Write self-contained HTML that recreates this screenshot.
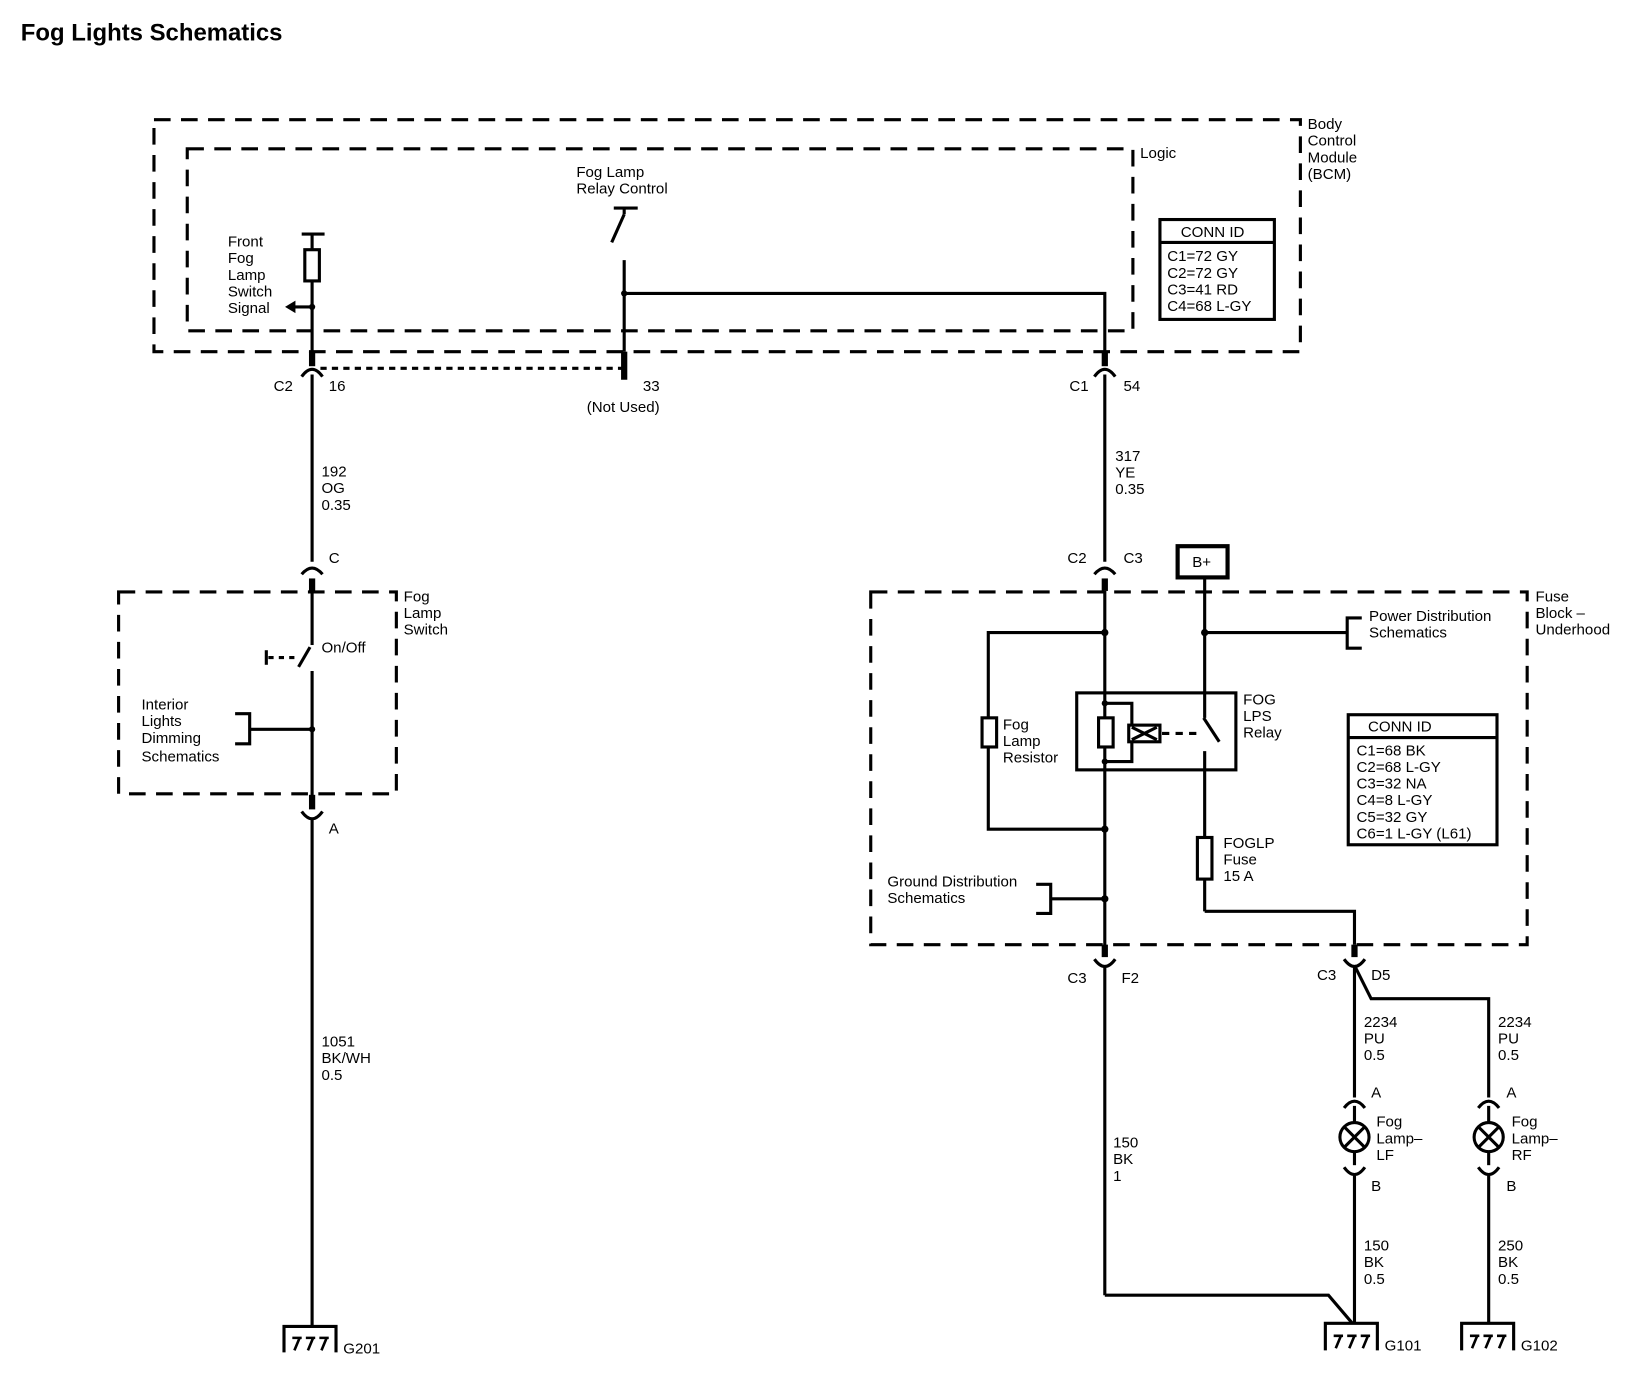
<!DOCTYPE html>
<html><head><meta charset="utf-8"><style>
html,body{margin:0;padding:0;background:#fff;}
svg{display:block;}
text{font-family:"Liberation Sans",sans-serif;font-size:14.5px;fill:#000;}
</style></head><body>
<svg width="1626" height="1392" viewBox="0 0 1563 1338" xmlns="http://www.w3.org/2000/svg">
<g fill="none" stroke="#000" stroke-width="3">
<rect x="148" y="115" width="1102" height="223" stroke-dasharray="16,10"/>
<rect x="180" y="143" width="909" height="175" stroke-dasharray="16,10"/>
<rect x="1115" y="211" width="110" height="96"/>
<line x1="1115" y1="233" x2="1225" y2="233"/>
<line x1="290" y1="225" x2="312" y2="225"/>
<line x1="300" y1="225" x2="300" y2="240"/>
<rect x="293" y="240" width="14" height="30"/>
<line x1="300" y1="270" x2="300" y2="350"/>
<line x1="300" y1="295" x2="282" y2="295"/>
<line x1="300" y1="338" x2="300" y2="352" stroke-width="6"/>
<path d="M290 362 Q300 348 310 362"/>
<line x1="300" y1="360" x2="300" y2="540"/>
<line x1="308" y1="354" x2="600" y2="354" stroke-dasharray="6,5"/>
<line x1="590" y1="200" x2="613" y2="200"/>
<line x1="600" y1="200" x2="600" y2="206"/>
<line x1="600" y1="206" x2="588" y2="233"/>
<line x1="600" y1="250" x2="600" y2="338"/>
<line x1="600" y1="338" x2="600" y2="365" stroke-width="6"/>
<polyline points="600,282 1062,282 1062,338"/>
<line x1="1062" y1="338" x2="1062" y2="352" stroke-width="6"/>
<path d="M1052 362 Q1062 348 1072 362"/>
<line x1="1062" y1="360" x2="1062" y2="540"/>
<path d="M290 552 Q300 540 310 552"/>
<line x1="300" y1="556" x2="300" y2="568" stroke-width="6"/>
<rect x="114" y="569" width="267" height="194" stroke-dasharray="16,10"/>
<line x1="300" y1="568" x2="300" y2="620"/>
<line x1="298" y1="622" x2="287" y2="641"/>
<line x1="300" y1="645" x2="300" y2="770"/>
<line x1="258" y1="632" x2="283" y2="632" stroke-dasharray="5,5"/>
<line x1="256" y1="625" x2="256" y2="639"/>
<line x1="300" y1="701" x2="240" y2="701"/>
<polyline points="226,686 240,686 240,715 226,715"/>
<line x1="300" y1="764" x2="300" y2="778" stroke-width="6"/>
<path d="M290 780 Q300 794 310 780"/>
<line x1="300" y1="786" x2="300" y2="1275"/>
<polyline points="273,1300 273,1275 323,1275 323,1300"/>
<path stroke-width="2.5" d="M283 1298 L288 1286 M296 1298 L301 1286 M309 1298 L314 1286 M281 1286 H290 M294 1286 H303 M307 1286 H316"/>
<path d="M1052 552 Q1062 540 1072 552"/>
<line x1="1062" y1="556" x2="1062" y2="568" stroke-width="6"/>
<rect x="1132" y="525" width="48" height="30" stroke-width="4"/>
<rect x="837" y="569" width="631" height="339" stroke-dasharray="16,10"/>
<line x1="1062" y1="568" x2="1062" y2="915"/>
<polyline points="1062,608 950,608 950,797 1062,797"/>
<rect x="944" y="690" width="14" height="28" fill="#fff"/>
<rect x="1035" y="666" width="153" height="74"/>
<polyline points="1062,676 1088,676 1088,697"/>
<polyline points="1062,732 1088,732 1088,713"/>
<rect x="1056" y="690" width="14" height="28" fill="#fff"/>
<rect x="1085" y="697" width="30" height="16"/>
<path d="M1088 699 L1112 711 M1088 711 L1112 699"/>
<line x1="1117" y1="705" x2="1152" y2="705" stroke-dasharray="7,6"/>
<line x1="1158" y1="555" x2="1158" y2="690"/>
<line x1="1157" y1="690" x2="1172" y2="713"/>
<line x1="1158" y1="722" x2="1158" y2="876"/>
<rect x="1151" y="805" width="14" height="40" fill="#fff"/>
<polyline points="1158,876 1302,876 1302,908"/>
<line x1="1158" y1="608" x2="1295" y2="608"/>
<polyline points="1309,594 1295,594 1295,623 1309,623"/>
<line x1="1010" y1="864" x2="1062" y2="864"/>
<polyline points="996,850 1010,850 1010,878 996,878"/>
<rect x="1296" y="687" width="143" height="125"/>
<line x1="1296" y1="709" x2="1439" y2="709"/>
<line x1="1062" y1="908" x2="1062" y2="920" stroke-width="6"/>
<path d="M1052 922 Q1062 936 1072 922"/>
<line x1="1062" y1="928" x2="1062" y2="1245"/>
<polyline points="1062,1245 1277,1245 1300,1272"/>
<line x1="1302" y1="908" x2="1302" y2="920" stroke-width="6"/>
<path d="M1292 922 Q1302 936 1312 922"/>
<polyline points="1302,928 1318,960 1431,960 1431,1055"/>
<line x1="1302" y1="930" x2="1302" y2="1055"/>
<path d="M1292 1065 Q1302 1052 1312 1065"/>
<line x1="1302" y1="1063" x2="1302" y2="1079"/>
<circle cx="1302" cy="1093" r="14"/>
<path d="M1292 1083 L1312 1103 M1312 1083 L1292 1103"/>
<line x1="1302" y1="1107" x2="1302" y2="1120"/>
<path d="M1292 1122 Q1302 1136 1312 1122"/>
<line x1="1302" y1="1130" x2="1302" y2="1272"/>
<path d="M1421 1065 Q1431 1052 1441 1065"/>
<line x1="1431" y1="1063" x2="1431" y2="1079"/>
<circle cx="1431" cy="1093" r="14"/>
<path d="M1421 1083 L1441 1103 M1441 1083 L1421 1103"/>
<line x1="1431" y1="1107" x2="1431" y2="1120"/>
<path d="M1421 1122 Q1431 1136 1441 1122"/>
<line x1="1431" y1="1130" x2="1431" y2="1272"/>
<polyline points="1274,1298 1274,1272 1324,1272 1324,1298"/>
<path stroke-width="2.5" d="M1284 1296 L1289 1284 M1297 1296 L1302 1284 M1310 1296 L1315 1284 M1282 1284 H1291 M1295 1284 H1304 M1308 1284 H1317"/>
<polyline points="1405,1298 1405,1272 1455,1272 1455,1298"/>
<path stroke-width="2.5" d="M1415 1296 L1420 1284 M1428 1296 L1433 1284 M1441 1296 L1446 1284 M1413 1284 H1422 M1426 1284 H1435 M1439 1284 H1448"/>
</g>
<g fill="#000">
<circle cx="300" cy="295" r="3"/>
<path d="M274 295 L284 289 L284 301 Z"/>
<circle cx="600" cy="282" r="3"/><circle cx="300" cy="701" r="3"/>
<circle cx="1062" cy="608" r="3.5"/><circle cx="1062" cy="797" r="3.5"/><circle cx="1062" cy="864" r="3.5"/>
<circle cx="1158" cy="608" r="3.5"/><circle cx="1062" cy="676" r="3"/><circle cx="1062" cy="732" r="3"/>
</g>
<text x="20" y="39" style="font-size:23px;font-weight:bold">Fog Lights Schematics</text>
<text x="1096" y="152">Logic</text>
<text x="1257" y="124">Body</text><text x="1257" y="140">Control</text><text x="1257" y="156">Module</text><text x="1257" y="172">(BCM)</text>
<text x="1135" y="228">CONN ID</text>
<text x="1122" y="251">C1=72 GY</text><text x="1122" y="267">C2=72 GY</text><text x="1122" y="283">C3=41 RD</text><text x="1122" y="299">C4=68 L-GY</text>
<text x="219" y="237">Front</text><text x="219" y="253">Fog</text><text x="219" y="269">Lamp</text><text x="219" y="285">Switch</text><text x="219" y="301">Signal</text>
<text x="554" y="170">Fog Lamp</text><text x="554" y="186">Relay Control</text>
<text x="263" y="376">C2</text><text x="316" y="376">16</text>
<text x="618" y="376">33</text><text x="564" y="396">(Not Used)</text>
<text x="1028" y="376">C1</text><text x="1080" y="376">54</text>
<text x="309" y="458">192</text><text x="309" y="474">OG</text><text x="309" y="490">0.35</text>
<text x="1072" y="443">317</text><text x="1072" y="459">YE</text><text x="1072" y="475">0.35</text>
<text x="316" y="541">C</text>
<text x="388" y="578">Fog</text><text x="388" y="594">Lamp</text><text x="388" y="610">Switch</text>
<text x="309" y="627">On/Off</text>
<text x="136" y="682">Interior</text><text x="136" y="698">Lights</text><text x="136" y="714">Dimming</text><text x="136" y="732">Schematics</text>
<text x="316" y="801">A</text>
<text x="309" y="1006">1051</text><text x="309" y="1022">BK/WH</text><text x="309" y="1038">0.5</text>
<text x="330" y="1301">G201</text>
<text x="1026" y="541">C2</text><text x="1080" y="541">C3</text>
<text x="1146" y="545">B+</text>
<text x="1476" y="578">Fuse</text><text x="1476" y="594">Block –</text><text x="1476" y="610">Underhood</text>
<text x="1316" y="597">Power Distribution</text><text x="1316" y="613">Schematics</text>
<text x="1195" y="677">FOG</text><text x="1195" y="693">LPS</text><text x="1195" y="709">Relay</text>
<text x="964" y="701">Fog</text><text x="964" y="717">Lamp</text><text x="964" y="733">Resistor</text>
<text x="1315" y="703">CONN ID</text>
<text x="1304" y="726">C1=68 BK</text><text x="1304" y="742">C2=68 L-GY</text><text x="1304" y="758">C3=32 NA</text><text x="1304" y="774">C4=8 L-GY</text><text x="1304" y="790">C5=32 GY</text><text x="1304" y="806">C6=1 L-GY (L61)</text>
<text x="1176" y="815">FOGLP</text><text x="1176" y="831">Fuse</text><text x="1176" y="847">15 A</text>
<text x="853" y="852">Ground Distribution</text><text x="853" y="868">Schematics</text>
<text x="1026" y="945">C3</text><text x="1078" y="945">F2</text>
<text x="1266" y="942">C3</text><text x="1318" y="942">D5</text>
<text x="1311" y="987">2234</text><text x="1311" y="1003">PU</text><text x="1311" y="1019">0.5</text>
<text x="1440" y="987">2234</text><text x="1440" y="1003">PU</text><text x="1440" y="1019">0.5</text>
<text x="1318" y="1055">A</text><text x="1448" y="1055">A</text>
<text x="1323" y="1083">Fog</text><text x="1323" y="1099">Lamp–</text><text x="1323" y="1115">LF</text>
<text x="1453" y="1083">Fog</text><text x="1453" y="1099">Lamp–</text><text x="1453" y="1115">RF</text>
<text x="1318" y="1145">B</text><text x="1448" y="1145">B</text>
<text x="1070" y="1103">150</text><text x="1070" y="1119">BK</text><text x="1070" y="1135">1</text>
<text x="1311" y="1202">150</text><text x="1311" y="1218">BK</text><text x="1311" y="1234">0.5</text>
<text x="1440" y="1202">250</text><text x="1440" y="1218">BK</text><text x="1440" y="1234">0.5</text>
<text x="1331" y="1298">G101</text><text x="1462" y="1298">G102</text>
</svg>
</body></html>
